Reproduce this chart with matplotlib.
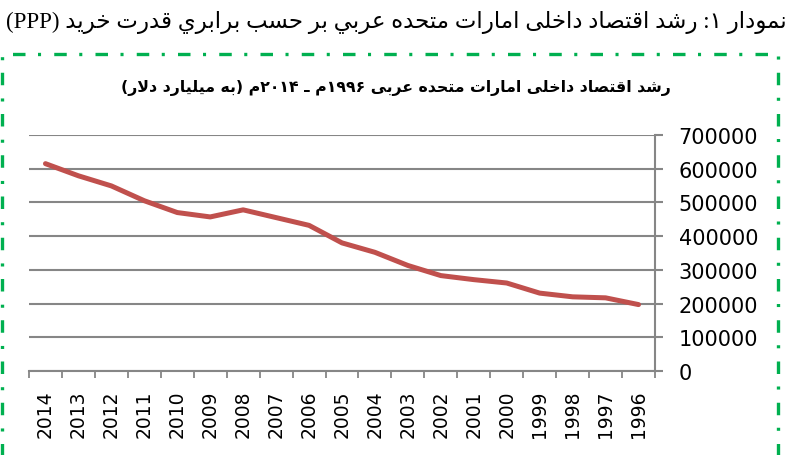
import matplotlib
matplotlib.use("Agg")
import matplotlib.pyplot as plt
import numpy as np

plt.rcParams['lines.scale_dashes'] = False

# data
years = ['2014', '2013', '2012', '2011', '2010', '2009', '2008', '2007', '2006', '2005',
         '2004', '2003', '2002', '2001', '2000', '1999', '1998', '1997', '1996']
gdp = [615000, 579000, 549000, 505000, 470000, 457000, 478000, 455000, 432000, 380000,
       352000, 313000, 283000, 271000, 261000, 231000, 220000, 217000, 197000]
yticks = [0, 100000, 200000, 300000, 400000, 500000, 600000, 700000]

fig_title = "نمودار ۱: رشد اقتصاد داخلی امارات متحده عربي بر حسب برابري قدرت خريد (PPP)"
chart_title = "رشد اقتصاد داخلی امارات متحده عربی ۱۹۹۶م ـ ۲۰۱۴م (به میلیارد دلار)"

# --- small arabic shaper + rtl reordering: matplotlib draws glyphs left to right ---
DUAL = {'ب': 0xFE8F, 'ت': 0xFE95, 'ث': 0xFE99, 'ج': 0xFE9D, 'ح': 0xFEA1, 'خ': 0xFEA5,
        'س': 0xFEB1, 'ش': 0xFEB5, 'ص': 0xFEB9, 'ض': 0xFEBD, 'ط': 0xFEC1, 'ظ': 0xFEC5,
        'ع': 0xFEC9, 'غ': 0xFECD, 'ف': 0xFED1, 'ق': 0xFED5, 'ل': 0xFEDD, 'م': 0xFEE1,
        'ن': 0xFEE5, 'ه': 0xFEE9, 'ي': 0xFEF1}
RIGHT = {'ا': 0xFE8D, 'آ': 0xFE81, 'د': 0xFEA9, 'ذ': 0xFEAB, 'ر': 0xFEAD, 'ز': 0xFEAF,
         'و': 0xFEED}
LETTERS = set(DUAL) | set(RIGHT) | {'ی'}
MIRROR = {'(': ')', ')': '('}


def forms(ch):
    if ch == 'ی':
        return (0xFEEF, 0xFEF0, 0xFEF3, 0xFEF4)
    if ch in DUAL:
        b = DUAL[ch]
        return (b, b + 1, b + 2, b + 3)
    b = RIGHT[ch]
    return (b, b + 1, None, None)


def shape_word(w):
    out = []
    i = 0
    while i < len(w):
        ch = w[i]
        prev_j = i > 0 and (w[i - 1] in DUAL or w[i - 1] == 'ی')
        if ch == 'ل' and i + 1 < len(w) and w[i + 1] == 'ا':
            out.append(chr(0xFEFC if prev_j else 0xFEFB))
            i += 2
            continue
        f = forms(ch)
        next_j = f[2] is not None and i + 1 < len(w)
        if prev_j and next_j:
            out.append(chr(f[3]))
        elif prev_j:
            out.append(chr(f[1]))
        elif next_j:
            out.append(chr(f[2]))
        else:
            out.append(chr(f[0]))
        i += 1
    return ''.join(out)


def is_ltr(ch):
    return (ch.isascii() and ch.isalnum()) or '\u06f0' <= ch <= '\u06f9'


def rtl(text):
    # contextual forms in logical order
    logical, run = '', ''
    for ch in text + ' ':
        if ch in LETTERS:
            run += ch
        else:
            logical += shape_word(run) + ch
            run = ''
    logical = logical[:-1]
    # split into units, digits / latin stay left-to-right, the rest is reversed
    units, cur = [], ''
    for ch in logical:
        if is_ltr(ch):
            cur += ch
        else:
            if cur:
                units.append(cur)
                cur = ''
            units.append(MIRROR.get(ch, ch))
    if cur:
        units.append(cur)
    return ''.join(reversed(units))


fig = plt.figure(figsize=(7.93, 4.56), dpi=100)
ax = fig.add_axes([29 / 793, 1 - 372 / 456, 626 / 793, 236 / 456])

x = np.arange(len(years))
ax.plot(x, gdp, color='#C0504D', lw=3.6, solid_capstyle='round', zorder=3)

ax.set_xlim(-0.5, len(years) - 0.5)
ax.set_ylim(0, 700000)
ax.set_yticks(yticks)
ax.set_yticklabels([str(v) for v in yticks])
ax.yaxis.tick_right()
ax.grid(axis='y', color='#868686', lw=1.5)
ax.set_axisbelow(True)

ax.set_xticks(x)
ax.set_xticklabels(years, rotation=90, va='top', ha='center')
ax.set_xticks(np.arange(-0.5, len(years)), minor=True)
ax.tick_params(axis='x', which='major', length=0, pad=13, labelsize=13.5)
ax.tick_params(axis='x', which='minor', length=5, width=1.3, color='#868686', direction='out')
ax.tick_params(axis='y', length=6, width=1.5, color='#868686', pad=11, labelsize=15)

for s in ['top', 'left']:
    ax.spines[s].set_visible(False)
for s in ['right', 'bottom']:
    ax.spines[s].set_color('#868686')
    ax.spines[s].set_linewidth(1.5)

fig.text(396 / 793, 1 - 88 / 456, rtl(chart_title), ha='center', va='center',
         fontsize=11.3, fontweight='bold', family='DejaVu Sans')
fig.text(396 / 793, 1 - 22 / 456, rtl(fig_title), ha='center', va='center',
         fontsize=16.5, family=['Liberation Serif', 'DejaVu Sans'])

# green dash-dot frame around the chart
frame = plt.Rectangle((1.5 / 793, -0.1), 776 / 793, 1.1 - 55 / 456,
                      transform=fig.transFigure, fill=False, edgecolor='#00B050',
                      lw=2.4, linestyle=(0, (9, 9.5, 2.2, 9)), clip_on=False)
fig.add_artist(frame)

fig.savefig('out.png', dpi=100)
